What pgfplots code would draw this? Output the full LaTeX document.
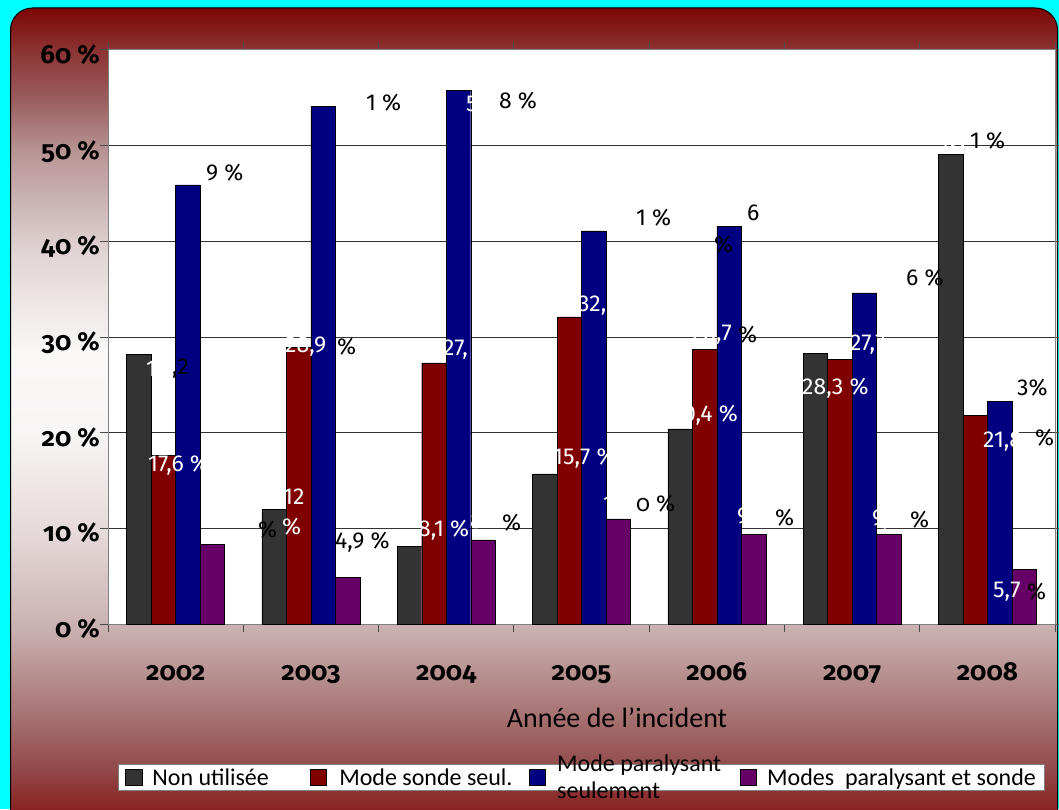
\documentclass[border=0pt]{standalone}
\usepackage{fontspec}
\usepackage{pgfplots}
\pgfplotsset{compat=1.18}
\setmainfont{Fira Sans}
\newfontfamily\tickfont[Numbers=OldStyle]{Fira Sans}
\newfontfamily\legfont{Carlito}
\newfontfamily\lblfam{Fira Sans}
\definecolor{cdark}{HTML}{333333}
\definecolor{cred}{HTML}{800000}
\definecolor{cblue}{HTML}{000080}
\definecolor{cpurp}{HTML}{660066}
\definecolor{bgcyan}{RGB}{0,255,255}
\definecolor{g8}{rgb}{0.49,0.02,0.02}
\definecolor{g50}{rgb}{0.55,0.20,0.20}
\definecolor{g100}{rgb}{0.61,0.37,0.37}
\definecolor{g150}{rgb}{0.72,0.58,0.58}
\definecolor{g250}{rgb}{0.88,0.83,0.83}
\definecolor{g350}{rgb}{0.98,0.97,0.97}
\definecolor{g430}{rgb}{0.97,0.96,0.96}
\definecolor{g530}{rgb}{0.90,0.85,0.85}
\definecolor{g626}{rgb}{0.79,0.69,0.69}
\definecolor{g700}{rgb}{0.67,0.48,0.48}
\definecolor{g760}{rgb}{0.58,0.30,0.30}
\definecolor{g809}{rgb}{0.53,0.12,0.12}
\pgfdeclareverticalshading{panel}{100bp}{color(0bp)=(g809); color(25bp)=(g809); color(28.06bp)=(g760); color(31.8bp)=(g700); color(36.42bp)=(g626); color(42.42bp)=(g530); color(48.66bp)=(g430); color(53.65bp)=(g350); color(59.89bp)=(g250); color(66.14bp)=(g150); color(69.26bp)=(g100); color(72.38bp)=(g50); color(75bp)=(g8); color(100bp)=(g8)}
\newcommand{\lblf}{\lblfam\fontsize{23}{25}\selectfont}
\newcommand{\dl}[5]{\node[text=#1, anchor=#5, inner sep=0pt, font=\lblf] at (axis cs:{(#2-108)/135.2857},{(624-#3)/9.5667}) {#4};}
\begin{document}
\begin{tikzpicture}
\useasboundingbox (0,0) rectangle (1059pt,809pt);
\fill[bgcyan] (0,0) rectangle (1059pt,809pt);
\draw[black, line width=1pt, shading=panel] (10.5pt,-5pt) [rounded corners=22pt] -- (10.5pt,801pt) -- (1057.5pt,801pt) [sharp corners] -- (1057.5pt,-5pt) -- cycle;
\begin{axis}[
  at={(108pt,185pt)}, anchor=south west,
  scale only axis, width=947pt, height=574pt,
  xmin=0, xmax=7, ymin=0, ymax=60,
  ybar=0pt, bar width=24.5pt,
  clip=false,
  axis background/.style={fill=white},
  axis line style={gray, line width=1pt},
  xtick={0,1,...,7},
  xticklabels={2002,2003,2004,2005,2006,2007,2008,{}},
  xticklabel style={anchor=base, xshift=67.64pt, yshift=-48pt, font=\tickfont\bfseries\fontsize{26}{28}\selectfont},
  ytick={0,10,...,60},
  yticklabels={0 \%,10 \%,20 \%,30 \%,40 \%,50 \%,60 \%},
  yticklabel style={anchor=base east, inner sep=0pt, yshift=-13.5pt, font=\tickfont\bfseries\fontsize{26}{28}\selectfont},
  tick align=outside, major tick length=8pt,
  tick style={gray!60!black, line width=1pt},
  ymajorgrids, major grid style={black!80, line width=1pt},
  xlabel={Année de l’incident},
  xlabel style={at={(axis description cs:0.5375,-0.164)}, anchor=center, font=\legfont\fontsize{28}{30}\selectfont},
  legend columns=4,
  legend cell align=left,
  legend style={at={(axis description cs:0.01056,-0.2439)}, anchor=north west, draw=gray, fill=white, line width=1pt, font=\legfont\fontsize{24}{26}\selectfont, inner xsep=7pt, inner ysep=2pt, /tikz/every even column/.append style={column sep=20pt}},
]
\addplot[fill=cdark, draw=black, legend image code/.code={\draw[fill=cdark,draw=black,line width=0.8pt] (0pt,-8pt) rectangle (16pt,8pt); \path (24pt,0pt);}] coordinates {(0.5,28.2) (1.5,12.0) (2.5,8.1) (3.5,15.7) (4.5,20.4) (5.5,28.3) (6.5,49.1)};
\addplot[fill=cred, draw=black, legend image code/.code={\draw[fill=cred,draw=black,line width=0.8pt] (0pt,-8pt) rectangle (16pt,8pt); \path (26pt,0pt);}] coordinates {(0.5,17.6) (1.5,28.9) (2.5,27.3) (3.5,32.1) (4.5,28.7) (5.5,27.7) (6.5,21.8)};
\addplot[fill=cblue, draw=black, legend image code/.code={\draw[fill=cblue,draw=black,line width=0.8pt] (0pt,-8pt) rectangle (16pt,8pt); \path (25pt,0pt);}] coordinates {(0.5,45.9) (1.5,54.1) (2.5,55.8) (3.5,41.1) (4.5,41.6) (5.5,34.6) (6.5,23.3)};
\addplot[fill=cpurp, draw=black, legend image code/.code={\draw[fill=cpurp,draw=black,line width=0.8pt] (0pt,-8pt) rectangle (16pt,8pt); \path (24pt,0pt);}] coordinates {(0.5,8.3) (1.5,4.9) (2.5,8.8) (3.5,11.0) (4.5,9.4) (5.5,9.4) (6.5,5.7)};
\legend{\makebox[136pt][l]{Non utilisée\rule[-24pt]{0pt}{0pt}}, \makebox[168pt][l]{Mode sonde seul.}, {\makebox[161pt][l]{\raisebox{10pt}{\smash{\begin{tabular}[t]{@{}l@{}}Mode paralysant\\[1pt]seulement\end{tabular}}}}}, Modes\ \ paralysant et sonde}
% data labels (as they appear)
\dl{black}{206}{173}{9 \%}{west}
\dl{black}{366}{103}{1 \%}{west}
\dl{white}{466}{104}{5}{west}
\dl{black}{499}{101}{8 \%}{west}
\dl{black}{636}{218}{1 \%}{west}
\dl{black}{747}{213}{6}{west}
\dl{black}{714}{245}{\%}{west}
\dl{black}{906}{278}{6 \%}{west}
\dl{white}{937}{141}{49,}{west}
\dl{black}{970}{141}{1 \%}{west}
\dl{white}{146}{369}{1}{west}
\dl{black}{172}{369}{,2}{west}
\dl{white}{148}{465}{17,6 \%}{west}
\dl{black}{258}{530}{\%}{west}
\dl{white}{282}{527}{\%}{west}
\dl{white}{283}{497}{12}{west}
\dl{white}{285}{347}{28,9}{west}
\dl{black}{337}{347}{\%}{west}
\dl{black}{335}{542}{4,9 \%}{west}
\dl{white}{418}{530}{8,1 \%}{west}
\dl{white}{470}{521}{8}{west}
\dl{black}{502}{523}{\%}{west}
\dl{white}{443}{350}{27,}{west}
\dl{white}{578}{306}{32,}{west}
\dl{white}{553}{458}{15,7 \%}{west}
\dl{white}{603}{504}{1}{west}
\dl{black}{636}{504}{{\tickfont 0} \%}{west}
\dl{white}{732}{335}{28,7}{east}
\dl{black}{738}{335}{\%}{west}
\dl{white}{738}{415}{20,4 \%}{east}
\dl{white}{737}{518}{9,4}{west}
\dl{black}{775}{518}{\%}{west}
\dl{white}{850}{345}{27,7}{west}
\dl{white}{802}{388}{28,3 \%}{west}
\dl{white}{872}{520}{9,4}{west}
\dl{black}{910}{520}{\%}{west}
\dl{black}{1017}{388}{3\%}{west}
\dl{white}{983}{442}{21,8}{west}
\dl{black}{1035}{438}{\%}{west}
\dl{white}{993}{592}{5,7}{west}
\dl{black}{1027}{592}{\%}{west}
\end{axis}
\end{tikzpicture}
\end{document}
